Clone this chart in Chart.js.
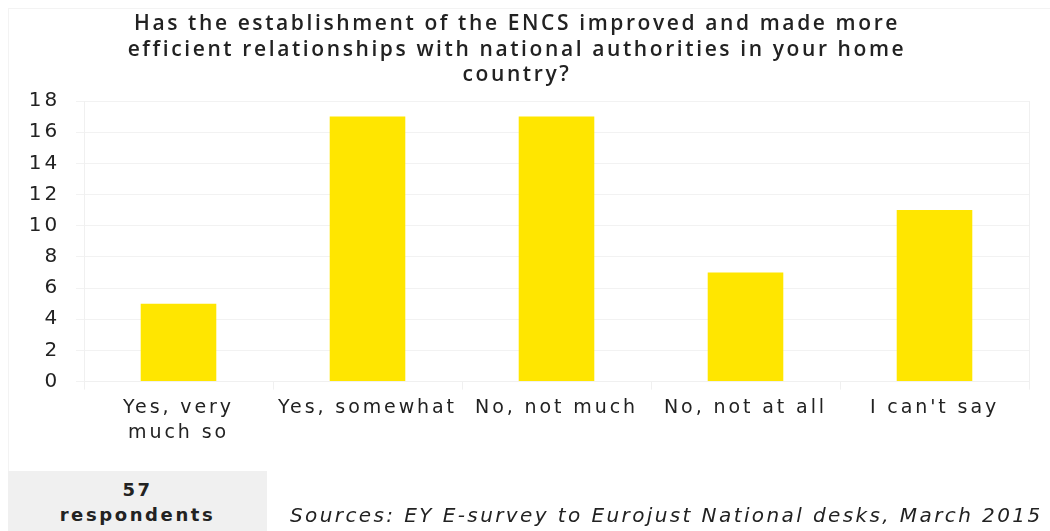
<!DOCTYPE html>
<html>
<head>
<meta charset="utf-8">
<script src="https://cdn.jsdelivr.net/npm/chart.js@4"></script>
<style>
  html, body { margin: 0; padding: 0; background: #fff; }
  #wrap { position: relative; width: 1050px; height: 531px; overflow: hidden; }
  #frame { position: absolute; left: 8px; top: 8px; width: 1050px; height: 540px; border-top: 1px solid #f3f3f3; border-left: 1px solid #f3f3f3; }
  canvas { position: absolute; left: 0; top: 0; }
  #titulo {
    position: absolute; left: 0; top: 10px; width: 1034px; text-align: center;
    font-family: "Open Sans", "DejaVu Sans", sans-serif; font-weight: 600; font-size: 21px; letter-spacing: 2.6px;
    line-height: 25.5px; color: #222;
  }
  #respondents {
    position: absolute; left: 8px; top: 471px; width: 259px; height: 60px; background: #f0f0f0;
    font-family: "DejaVu Sans", sans-serif; font-weight: bold; font-size: 18px; letter-spacing: 2.6px;
    color: #222; text-align: center; line-height: 25px; padding-top: 6px; box-sizing: border-box;
  }
  #source {
    position: absolute; left: 290px; top: 503px;
    font-family: "DejaVu Sans", sans-serif; font-style: italic; font-size: 20px; letter-spacing: 2.4px; color: #222;
  }
</style>
</head>
<body>
<div id="wrap">
  <div id="frame"></div>
  <canvas id="grafico" width="1050" height="531"></canvas>
  <div id="titulo"></div>
  <div id="respondents">57<br>respondents</div>
  <div id="source">Sources: EY E-survey to Eurojust National desks, March 2015</div>
</div>
<script>
// dados
const categorias = [["Yes, very", "much so"], "Yes, somewhat", "No, not much", "No, not at all", "I can't say"];
const respostas = [5, 17, 17, 7, 11];
const titulo = [
  "Has the establishment of the ENCS improved and made more",
  "efficient relationships with national authorities in your home",
  "country?"
];

document.getElementById("titulo").innerHTML = titulo.join("<br>");

// espacamento entre letras (fonte original é mais larga)
const espacamento = {
  id: "espacamento",
  beforeUpdate(chart) { chart.ctx.letterSpacing = "2.9px"; },
  beforeDraw(chart) { chart.ctx.letterSpacing = "2.9px"; }
};

const ctx = document.getElementById("grafico").getContext("2d");
new Chart(ctx, {
  type: "bar",
  data: {
    labels: categorias,
    datasets: [{
      data: respostas,
      backgroundColor: "#FFE600",
      categoryPercentage: 0.4,
      barPercentage: 1.0
    }]
  },
  options: {
    responsive: false,
    animation: false,
    layout: { padding: { top: 101, right: 21, bottom: 80, left: 0 } },
    plugins: {
      legend: { display: false },
      tooltip: { enabled: false },
      title: { display: false }
    },
    scales: {
      x: {
        grid: { color: "#f0f0f0", tickLength: 8, drawOnChartArea: false, offset: true },
        border: { color: "#f0f0f0" },
        ticks: { color: "#222", font: { family: "DejaVu Sans", size: 19, lineHeight: 1.3 }, padding: 6, maxRotation: 0, autoSkip: false }
      },
      y: {
        min: 0,
        max: 18,
        grid: { color: "#f2f2f2", tickLength: 8 },
        border: { display: true, color: "#f0f0f0" },
        ticks: { stepSize: 2, color: "#222", font: { family: "DejaVu Sans", size: 20 }, padding: 16 },
        afterFit(scale) { scale.width = 84; }
      },
      direita: {
        position: "right",
        min: 0,
        max: 18,
        grid: { drawOnChartArea: false, drawTicks: false },
        border: { display: true, color: "#f0f0f0" },
        ticks: { display: false },
        afterFit(scale) { scale.width = 0; }
      }
    }
  },
  plugins: [espacamento]
});
</script>
</body>
</html>
